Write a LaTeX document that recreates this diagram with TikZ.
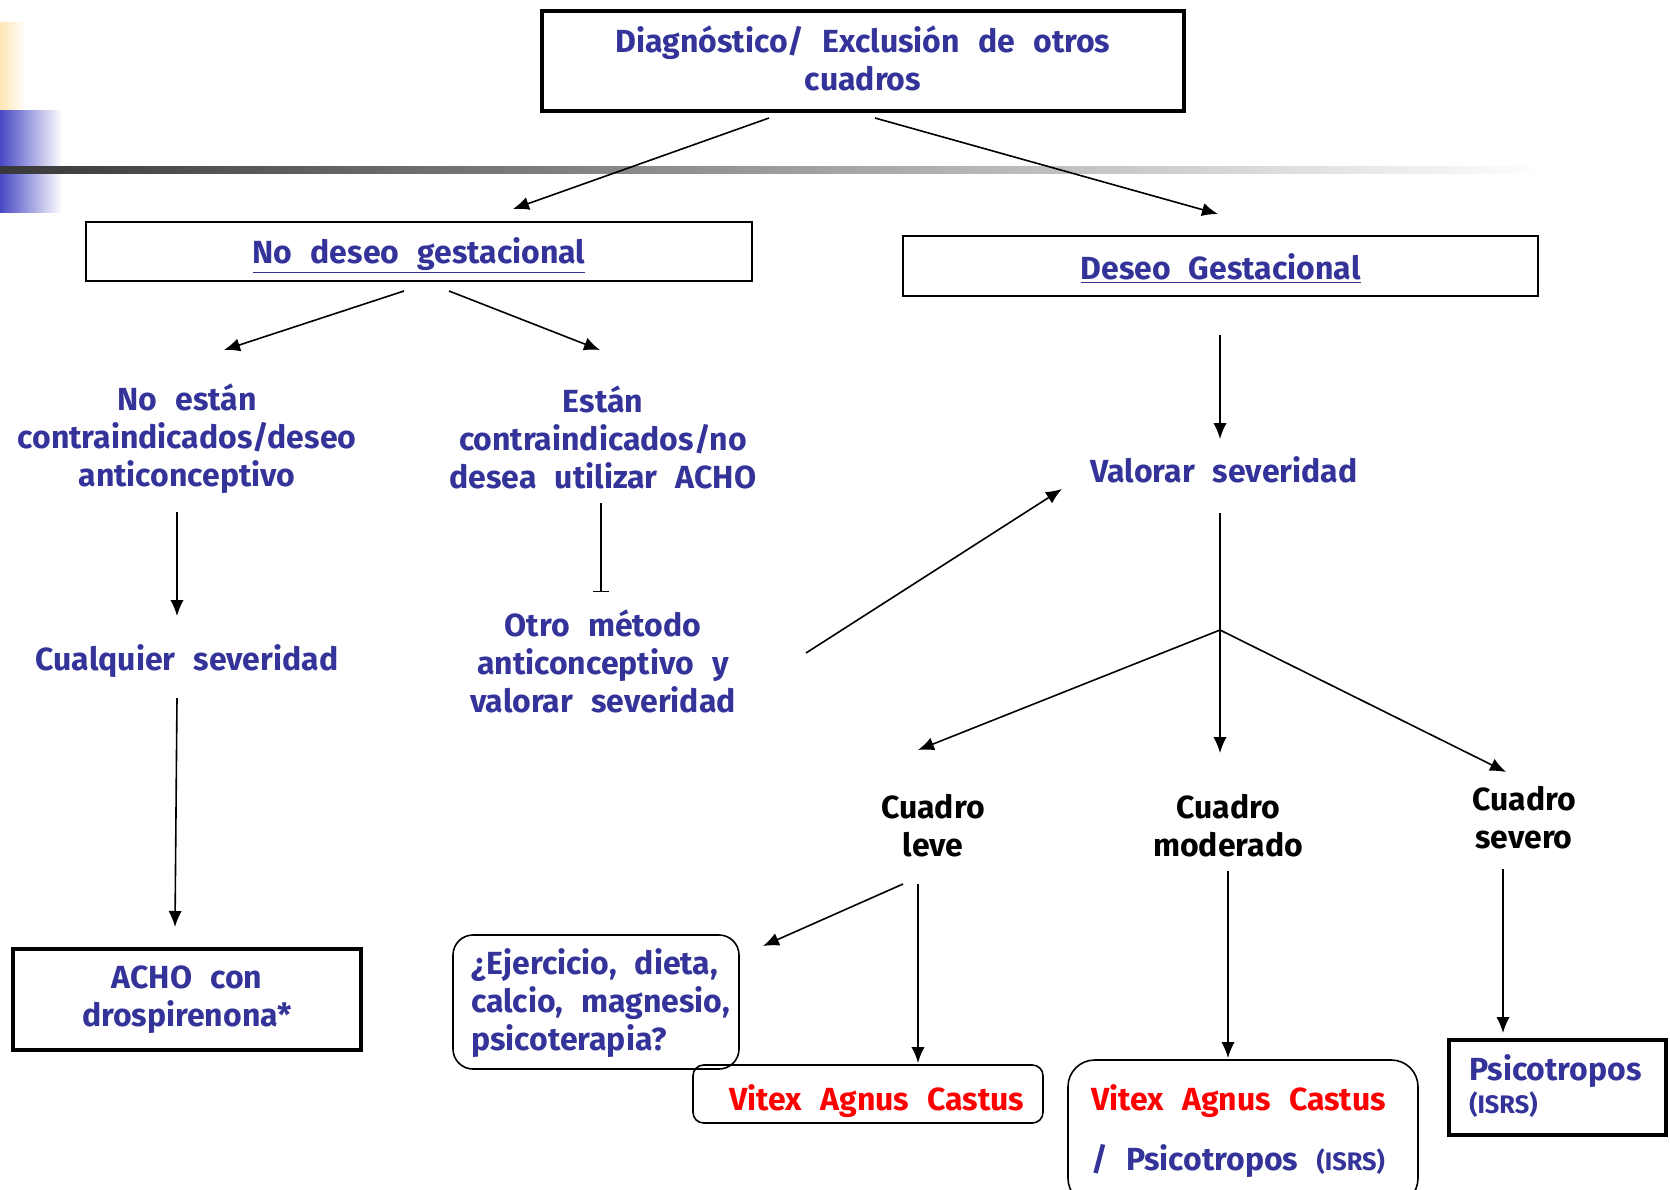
\documentclass[tikz,border=0pt]{standalone}
\usepackage{fontspec}
\setmainfont{Fira Sans}[WordSpace=2.4]
\usetikzlibrary{arrows.meta}
\definecolor{dblue}{HTML}{333399}
\definecolor{beige}{HTML}{FFE6B4}
\definecolor{sideblue}{HTML}{4848C4}
\tikzset{
  lbl/.style={font=\fontsize{24}{28.5}\selectfont\bfseries, text=dblue, align=center, inner sep=0pt},
  blk/.style={lbl, text=black},
  redt/.style={lbl, text=red},
  arr/.style={line width=1.2pt, -{Latex[length=12pt,width=10pt]}},
  bararr/.style={line width=1.2pt, -{Bar[width=12pt,line width=0.8pt]}},
  ln/.style={line width=1.2pt},
  sqbox/.style={draw, inner sep=0pt},
  rbox/.style={draw, line width=1.2pt, inner sep=0pt},
}
\begin{document}
\begin{tikzpicture}[x=0.75pt, y=-0.75pt]
\clip (0,0) rectangle (1670,1189);
\useasboundingbox (0,0) rectangle (1670,1189);
% background decoration
\shade[left color=beige, right color=white] (0,22) rectangle (26,110);
\shade[left color=sideblue, right color=white] (0,110) rectangle (62,212);
\shade[left color=black!78, right color=white] (0,166) rectangle (1545,173);

% boxes
\node[sqbox, line width=3.5pt, minimum width=481.5pt, minimum height=75pt] (top) at (863,61) {};
\node[lbl] (toptxt) at (863,58) {Diagnóstico/ Exclusión de otros\\cuadros};
\node[sqbox, line width=1.5pt, minimum width=499.5pt, minimum height=44pt] (nodeseo) at (419,251.5) {};
\node[lbl] (nodeseotxt) at (419,255) {\underline{No deseo gestacional}};
\node[sqbox, line width=1.5pt, minimum width=476pt, minimum height=45pt] (deseo) at (1220.5,266) {};
\node[lbl] (deseotxt) at (1220.5,268) {\underline{Deseo Gestacional}};
\node[sqbox, line width=2.6pt, minimum width=261pt, minimum height=75.75pt, lbl] (acho) at (187,999.5) {ACHO con\\drospirenona*};
\node[rbox, rounded corners=15pt, minimum width=214.5pt, minimum height=100.5pt] (ejbox) at (596,1002) {};
\node[rbox, rounded corners=8pt, minimum width=262.5pt, minimum height=43.5pt] (vitbox) at (868,1094) {};
\node[rbox, rounded corners=20pt, minimum width=262.5pt, minimum height=108.75pt] (modbox) at (1243,1132.5) {};
\node[sqbox, line width=3pt, minimum width=162.75pt, minimum height=71.25pt] (psibox) at (1557.5,1087.5) {};

% text nodes
\node[lbl] (noestan) at (187,439) {No están\\contraindicados/deseo\\anticonceptivo};
\node[lbl] (estan) at (603,437.5) {Están\\contraindicados/no\\desea utilizar ACHO};
\node[lbl] (cualq) at (187,661) {Cualquier severidad};
\node[lbl] (otro) at (603,661) {Otro método\\anticonceptivo y\\valorar severidad};
\node[lbl] (valorar) at (1224,470) {Valorar severidad};
\node[blk] (leve) at (933,825.5) {Cuadro\\leve};
\node[blk] (mod) at (1228,825.5) {Cuadro\\moderado};
\node[blk] (sev) at (1524,817.5) {Cuadro\\severo};
\node[lbl, align=left, anchor=west] (ejtxt) at (471,1003) {¿Ejercicio, dieta,\\calcio, magnesio,\\psicoterapia?};
\node[redt] (vit1) at (877,1101) {Vitex Agnus Castus};
\node[redt, anchor=west] (vit2) at (1091,1101) {Vitex Agnus Castus};
\node[lbl, anchor=west] (psi2) at (1091,1161) {/ Psicotropos {\fontsize{19}{20}\selectfont(ISRS)}};
\node[lbl, anchor=west] (psi3) at (1469,1071) {Psicotropos};
\node[lbl, anchor=west, font=\fontsize{19}{20}\selectfont\bfseries] (isrs3) at (1469,1105) {(ISRS)};

% connector end points
\coordinate (c1a) at (769,118); \coordinate (c1b) at (513,209);
\coordinate (c2a) at (875,118); \coordinate (c2b) at (1218,214);
\coordinate (c3a) at (404,291); \coordinate (c3b) at (224,350);
\coordinate (c4a) at (449,291); \coordinate (c4b) at (600,350);
\coordinate (c5a) at (177,512); \coordinate (c5b) at (177,616);
\coordinate (c6a) at (177,698); \coordinate (c6b) at (175,927);
\coordinate (c7a) at (601,503); \coordinate (c7b) at (601,592);
\coordinate (c8a) at (806,653); \coordinate (c8b) at (1062,489);
\coordinate (c9a) at (1220,335); \coordinate (c9b) at (1220,439);
\coordinate (c10a) at (1220,513); \coordinate (j) at (1220,630);
\coordinate (jl) at (918,750); \coordinate (jm) at (1220,753); \coordinate (jr) at (1506,772);
\coordinate (l1a) at (903,884); \coordinate (l1b) at (763,946);
\coordinate (l2a) at (918,884); \coordinate (l2b) at (918,1063);
\coordinate (m1a) at (1228,871); \coordinate (m1b) at (1228,1058);
\coordinate (s1a) at (1503,869); \coordinate (s1b) at (1503,1033);

\draw[arr] (c1a) -- (c1b);
\draw[arr] (c2a) -- (c2b);
\draw[arr] (c3a) -- (c3b);
\draw[arr] (c4a) -- (c4b);
\draw[arr] (c5a) -- (c5b);
\draw[arr] (c6a) -- (c6b);
\draw[bararr] (c7a) -- (c7b);
\draw[arr] (c8a) -- (c8b);
\draw[arr] (c9a) -- (c9b);
\draw[ln] (c10a) -- (j);
\draw[arr] (j) -- (jl);
\draw[arr] (j) -- (jm);
\draw[arr] (j) -- (jr);
\draw[arr] (l1a) -- (l1b);
\draw[arr] (l2a) -- (l2b);
\draw[arr] (m1a) -- (m1b);
\draw[arr] (s1a) -- (s1b);
\end{tikzpicture}
\end{document}
